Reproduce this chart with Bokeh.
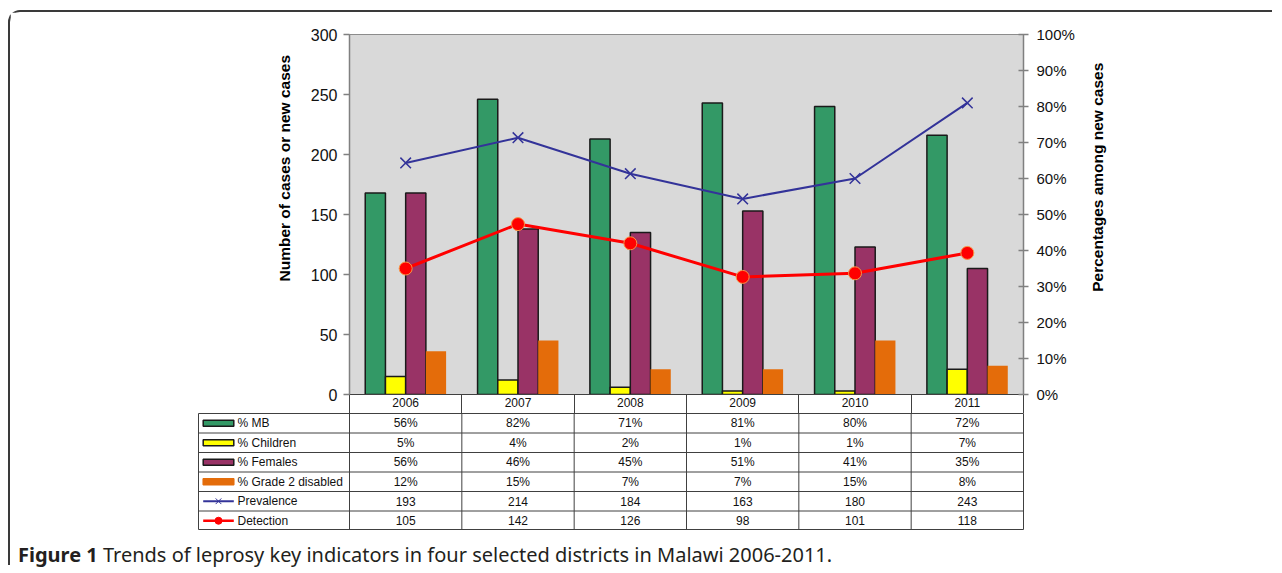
import math
import numpy as np
from bokeh.plotting import figure
from bokeh.models import (Range1d, LinearAxis, FixedTicker, PrintfTickFormatter,
                          Title, Div)
from bokeh.layouts import column, row
from bokeh.embed import file_html
from bokeh.resources import INLINE
from bokeh.core.properties import value

# ---------------- data ----------------
years = ["2006", "2007", "2008", "2009", "2010", "2011"]
pct_mb = [56, 82, 71, 81, 80, 72]
pct_children = [5, 4, 2, 1, 1, 7]
pct_females = [56, 46, 45, 51, 41, 35]
pct_grade2 = [12, 15, 7, 7, 15, 8]
prevalence = [193, 214, 184, 163, 180, 243]
detection = [105, 142, 126, 98, 101, 118]
series_names = ["% MB", "% Children", "% Females", "% Grade 2 disabled",
                "Prevalence", "Detection"]
left_ticks = [0, 50, 100, 150, 200, 250, 300]
right_ticks = [0, 10, 20, 30, 40, 50, 60, 70, 80, 90, 100]

FONT = "Liberation Sans"
GREEN, YELLOW, PURPLE, ORANGE = "#339966", "#FFFF00", "#993366", "#E46C0A"
NAVY, RED = "#333399", "#FF0000"

n = len(years)
xc = np.arange(n) + 0.5

TOP_H = 22 + 360 + 19

# ---------------- chart ----------------
p = figure(x_range=Range1d(0, n), y_range=Range1d(0, 300),
           frame_width=674, frame_height=360,
           min_border_left=339, min_border_right=62,
           min_border_top=22, min_border_bottom=19,
           x_axis_type=None, y_axis_type=None,
           output_backend="svg", toolbar_location=None,
           background_fill_color="#D9D9D9", border_fill_color="white",
           outline_line_color="#8C8C8C")
p.extra_y_ranges = {"pct": Range1d(0, 100)}

bar_w = 0.18
offsets = [-0.27, -0.09, 0.09, 0.27]
bar_series = [pct_mb, pct_children, pct_females, pct_grade2]
bar_colors = [GREEN, YELLOW, PURPLE, ORANGE]
bar_lines = ["#1a1a1a", "#1a1a1a", "#1a1a1a", None]
for vals, off, fc, lc in zip(bar_series, offsets, bar_colors, bar_lines):
    p.vbar(x=xc + off, top=vals, bottom=0, width=bar_w, y_range_name="pct",
           fill_color=fc, line_color=lc, line_width=1.5)

p.line(xc, prevalence, line_color=NAVY, line_width=2)
p.scatter(xc, prevalence, marker="x", size=15, line_color=NAVY, line_width=1.5)
p.line(xc, detection, line_color=RED, line_width=3)
p.scatter(xc, detection, marker="circle", size=13, fill_color=RED,
          line_color="#F79646", line_width=1)

yl = LinearAxis(ticker=FixedTicker(ticks=left_ticks),
                axis_line_color="#808080", axis_line_width=1.5,
                major_tick_line_color="#808080", major_tick_line_width=1.5,
                major_tick_out=6, major_tick_in=0,
                minor_tick_line_color=None,
                major_label_text_font=FONT, major_label_text_font_size="16px",
                major_label_text_color="#111111", major_label_standoff=6)
p.add_layout(yl, "left")
p.add_layout(Title(text="Number of cases or new cases", align="left", offset=113,
                   text_font=FONT, text_font_size="15.5px", text_font_style="bold",
                   text_color="#000000", standoff=30), "left")

yr = LinearAxis(y_range_name="pct", ticker=FixedTicker(ticks=right_ticks),
                formatter=PrintfTickFormatter(format="%d%%"),
                axis_line_color="#808080", axis_line_width=1.5,
                major_tick_line_color="#808080", major_tick_line_width=1.5,
                major_tick_out=5, major_tick_in=5,
                minor_tick_line_color=None,
                major_label_text_font=FONT, major_label_text_font_size="15px",
                major_label_text_color="#111111", major_label_standoff=8)
p.add_layout(yr, "right")

xb = LinearAxis(ticker=FixedTicker(ticks=list(xc), minor_ticks=list(range(n + 1))),
                major_label_overrides={float(x): y for x, y in zip(xc, years)},
                axis_line_color="#404040", axis_line_width=1,
                major_tick_line_color=None, major_tick_out=0, major_tick_in=0,
                minor_tick_line_color="#404040", minor_tick_out=19, minor_tick_in=0,
                major_label_standoff=-16,
                major_label_text_font=FONT, major_label_text_font_size="12px",
                major_label_text_color="#111111")
p.add_layout(xb, "below")

# right-hand axis title (reads bottom to top)
lbl_w = 1262 - (339 + 674 + 62)
lbl = figure(x_range=Range1d(0, lbl_w), y_range=Range1d(0, TOP_H),
             width=lbl_w, height=TOP_H,
             min_border_left=0, min_border_right=0, min_border_top=0, min_border_bottom=0,
             x_axis_type=None, y_axis_type=None,
             output_backend="svg", toolbar_location=None,
             background_fill_color="white", border_fill_color="white",
             outline_line_color=None)
lbl.text(x=[12], y=[TOP_H - 159], text=["Percentages among new cases"], angle=math.pi / 2,
         text_align="center", text_baseline="middle",
         text_font=value(FONT), text_font_size="15.5px", text_font_style="bold",
         text_color="#000000")

# ---------------- data table ----------------
u = 674 / n
L = 151 / u
nrows = len(series_names)
t = figure(x_range=Range1d(-L, n), y_range=Range1d(nrows, 0),
           frame_width=825, frame_height=117,
           min_border_left=188, min_border_right=249,
           min_border_top=0, min_border_bottom=0,
           x_axis_type=None, y_axis_type=None,
           output_backend="svg", toolbar_location=None,
           background_fill_color="white", border_fill_color="white",
           outline_line_color="#404040", outline_line_width=1)

t.segment(x0=[-L] * (nrows - 1), x1=[n] * (nrows - 1),
          y0=list(range(1, nrows)), y1=list(range(1, nrows)),
          line_color="#404040", line_width=1)
t.segment(x0=list(range(n)), x1=list(range(n)), y0=[0] * n, y1=[nrows] * n,
          line_color="#404040", line_width=1)

rows_vals = [[f"{v}%" for v in pct_mb], [f"{v}%" for v in pct_children],
             [f"{v}%" for v in pct_females], [f"{v}%" for v in pct_grade2],
             [str(v) for v in prevalence], [str(v) for v in detection]]
tx, ty, tt = [], [], []
for r, vals in enumerate(rows_vals):
    for i, s in enumerate(vals):
        tx.append(i + 0.5)
        ty.append(r + 0.5)
        tt.append(s)
t.text(x=tx, y=ty, text=tt, text_align="center", text_baseline="middle",
       text_font=value(FONT), text_font_size="12px", text_color="#111111")

sx0 = -L + 4.7 / u
sx1 = -L + 35.3 / u
sxm = (sx0 + sx1) / 2
for r, (fc, lc) in enumerate(zip(bar_colors, bar_lines)):
    t.quad(left=sx0, right=sx1, top=r + 0.5 - 0.16, bottom=r + 0.5 + 0.16,
           fill_color=fc, line_color=lc if lc else fc, line_width=1.5)
t.segment(x0=[sx0], x1=[sx1], y0=[4.5], y1=[4.5], line_color=NAVY, line_width=2)
t.scatter([sxm], [4.5], marker="x", size=8, line_color=NAVY, line_width=1)
t.segment(x0=[sx0], x1=[sx1], y0=[5.5], y1=[5.5], line_color=RED, line_width=2.5)
t.scatter([sxm], [5.5], marker="circle", size=7, fill_color=RED, line_color=RED)
t.text(x=[-L + 39 / u] * nrows, y=[r + 0.5 for r in range(nrows)], text=series_names,
       text_align="left", text_baseline="middle",
       text_font=value(FONT), text_font_size="12px", text_color="#111111")

# ---------------- caption ----------------
cap = Div(text='<div style="font-family:\'Noto Sans\'; font-size:20px; line-height:22px; '
               'color:#231f20; padding-top:14px; padding-left:8px; white-space:nowrap;">'
               '<b>Figure 1</b> Trends of leprosy key indicators in four selected '
               'districts in Malawi 2006-2011.</div>',
          width=1000, height=35, margin=0)

layout = column(row(p, lbl, spacing=0), t, cap, spacing=0, margin=(10, 0, 0, 8),
                styles={"border-top": "2px solid #3a3a3a",
                        "border-left": "2px solid #3a3a3a",
                        "border-top-left-radius": "12px"})

open("out.html", "w").write(file_html(layout, INLINE))
